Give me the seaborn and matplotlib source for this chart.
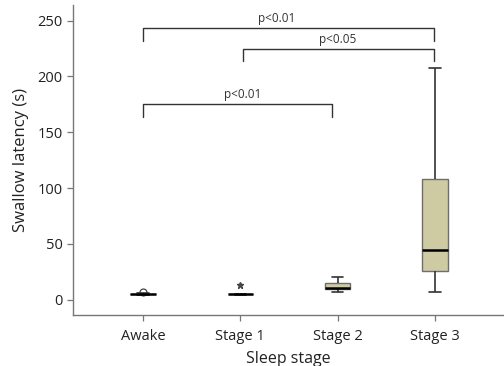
import matplotlib
matplotlib.use("Agg")
import matplotlib.pyplot as plt
import seaborn as sns
import pandas as pd

# ---- data ----
stages = ["Awake", "Stage 1", "Stage 2", "Stage 3"]
awake_vals = [4.4, 4.7, 4.9, 5.0, 5.1, 5.3, 5.6]
stage1_vals = [4.6, 4.8, 5.0, 5.1, 5.2, 5.4]
stage2_vals = [7.2, 9.3, 10.2, 14.7, 20.0]
stage3_vals = [7.0, 25.5, 44.5, 108.0, 208.0]
outlier_stage = ["Awake", "Stage 1"]
outlier_vals = [7.0, 13.0]
outlier_markers = ["o", "*"]

brackets = [  # (x_start, x_end, y, label, label_x)
    (0.0, 2.99, 243.0, "p<0.01", 1.37),
    (1.03, 2.99, 224.5, "p<0.05", 2.0),
    (0.0, 1.94, 175.0, "p<0.01", 1.02),
]
bracket_drop = 11.0

rows = []
for s, vals in zip(stages, [awake_vals, stage1_vals, stage2_vals, stage3_vals]):
    rows += [(s, v) for v in vals]
df = pd.DataFrame(rows, columns=["stage", "latency"])

sns.set_style("ticks")
plt.rcParams["font.family"] = ["Open Sans", "DejaVu Sans"]

fig = plt.figure(figsize=(5.04, 3.66), dpi=100)
ax = fig.add_axes([73 / 504, (366 - 315) / 366, (504 - 73) / 504, (315 - 5) / 366])

box_color = "#d5d09b"
edge = "#6e6e6e"
sns.boxplot(data=df, x="stage", y="latency", order=stages, color=box_color,
            width=0.26, showfliers=False, whis=1.5, ax=ax,
            boxprops=dict(edgecolor=edge, linewidth=1.0),
            whiskerprops=dict(color="#333333", linewidth=1.2),
            capprops=dict(color="#333333", linewidth=1.2),
            medianprops=dict(color="black", linewidth=1.8),
            capwidths=0.12)

# outliers
for s, v, m in zip(outlier_stage, outlier_vals, outlier_markers):
    xi = stages.index(s)
    if m == "o":
        ax.plot([xi], [v], marker="o", markersize=5, markerfacecolor="white",
                markeredgecolor="#444444", markeredgewidth=0.9, linestyle="none", zorder=1)
    else:
        ax.plot([xi], [v], marker="*", markersize=4.5, color="#444444",
                linestyle="none", zorder=3)

# significance brackets
for x0, x1, y, lab, lx in brackets:
    ax.plot([x0, x0, x1, x1], [y - bracket_drop, y, y, y - bracket_drop],
            color="#333333", linewidth=1.0, clip_on=False)
    ax.text(lx, y + 3, lab, ha="center", va="bottom", fontsize=8.5, color="#333333")

ax.set_xlim(-0.72, 3.71)
ax.set_ylim(-13.7, 264)
ax.set_yticks([0, 50, 100, 150, 200, 250])
ax.set_xlabel("Sleep stage", fontsize=11.5, color="#222222", labelpad=5)
ax.set_ylabel("Swallow latency (s)", fontsize=12, color="#222222", labelpad=6)
ax.tick_params(axis="both", labelsize=10.5, colors="#222222", length=4, color="#777777", width=0.9)
ax.tick_params(axis="x", pad=6)
for side in ["top", "right"]:
    ax.spines[side].set_visible(False)
for side in ["left", "bottom"]:
    ax.spines[side].set_color("#777777")
    ax.spines[side].set_linewidth(1.0)

fig.savefig("out.png", dpi=100)
